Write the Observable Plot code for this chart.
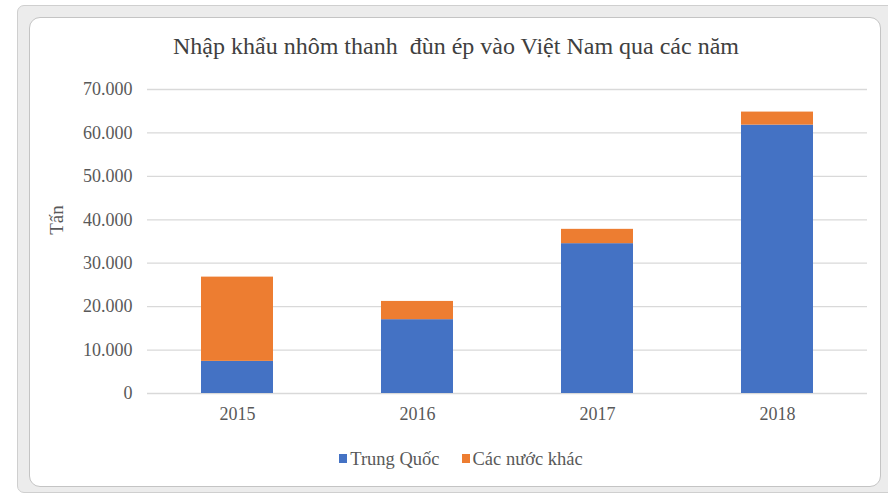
<!DOCTYPE html>
<html>
<head>
<meta charset="utf-8">
<script src="https://cdn.jsdelivr.net/npm/d3@7"></script>
<script src="https://cdn.jsdelivr.net/npm/@observablehq/plot@0.6"></script>
<style>
  html, body { margin: 0; padding: 0; background: #fff; }
  #wrap { position: relative; width: 888px; height: 498px; overflow: hidden; font-family: "Liberation Serif", "Times New Roman", serif; }
  #outer { position: absolute; left: 17px; top: 5px; width: 890px; height: 488px; background: #ececec; border: 1px solid #cfcfcf; border-radius: 7px; box-sizing: border-box; }
  #inner { position: absolute; left: 29px; top: 17px; width: 852px; height: 470px; background: #fff; border: 1px solid #c4c4c4; border-radius: 11px; box-sizing: border-box; }
  #title { position: absolute; left: 0; width: 912px; top: 31px; text-align: center; font-size: 24px; line-height: 30px; color: #404040; }
  #chart { position: absolute; left: 0; top: 70px; }
  #ytitle { position: absolute; left: 57px; top: 220px; transform: translate(-50%, -50%) rotate(-90deg); font-size: 19px; color: #595959; white-space: nowrap; }
  #legend { position: absolute; left: 0; width: 922px; top: 447px; text-align: center; font-size: 18.5px; line-height: 24px; color: #595959; }
  .sw { display: inline-block; width: 8px; height: 9px; margin-right: 3px; vertical-align: 2px; }
  .item { margin: 0 11px; }
</style>
</head>
<body>
<div id="wrap">
  <div id="outer"></div>
  <div id="inner"></div>
  <div id="title">Nhập khẩu nhôm thanh&nbsp; đùn ép vào Việt Nam qua các năm</div>
  <div id="chart"></div>
  <div id="ytitle">Tấn</div>
  <div id="legend"></div>
</div>
<script>
const years = ["2015", "2016", "2017", "2018"];
const seriesNames = ["Trung Quốc", "Các nước khác"];
const trungQuoc = [7400, 17000, 34500, 61800];
const cacNuocKhac = [19400, 4200, 3300, 3000];
const yTicks = [0, 10000, 20000, 30000, 40000, 50000, 60000, 70000];
const colors = ["#4472C4", "#ED7D31"];

const data = [];
years.forEach((y, i) => {
  data.push({year: y, series: seriesNames[0], value: trungQuoc[i]});
  data.push({year: y, series: seriesNames[1], value: cacNuocKhac[i]});
});

const fmt = d => d === 0 ? "0" : d3.format(",")(d).replace(/,/g, ".");

const plot = Plot.plot({
  width: 888,
  height: 370,
  marginLeft: 147,
  marginRight: 21,
  marginTop: 19,
  marginBottom: 47,
  style: {fontFamily: '"Liberation Serif", "Times New Roman", serif', fontSize: "18px", color: "#595959", background: "transparent"},
  x: {domain: years, paddingInner: 0.6, paddingOuter: 0.3, label: null},
  y: {domain: [0, 70000], label: null},
  color: {domain: seriesNames, range: colors},
  marks: [
    Plot.ruleY(yTicks, {stroke: "#d9d9d9", strokeWidth: 1.3}),
    Plot.barY(data, Plot.stackY({x: "year", y: "value", fill: "series", order: seriesNames})),
    Plot.axisX({tickSize: 0, tickPadding: 14, fontSize: 18, label: null}),
    Plot.axisY({ticks: yTicks, tickFormat: fmt, tickSize: 0, tickPadding: 15, fontSize: 18, label: null})
  ]
});
document.getElementById("chart").appendChild(plot);

const legend = document.getElementById("legend");
seriesNames.forEach((s, i) => {
  const span = document.createElement("span");
  span.className = "item";
  span.innerHTML = `<span class="sw" style="background:${colors[i]}"></span>${s}`;
  legend.appendChild(span);
});
</script>
</body>
</html>
